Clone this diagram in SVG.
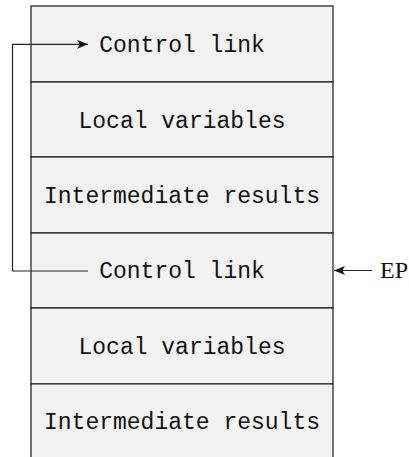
<svg xmlns="http://www.w3.org/2000/svg" width="409" height="457" viewBox="0 0 409 457">
<style>
.cell{fill:#f2f2f2;stroke:#1a1a1a;stroke-width:1.2}
.t{font-family:"Liberation Mono","DejaVu Sans Mono",monospace;font-size:23px;fill:#111;text-anchor:middle}
.s{font-family:"Liberation Serif","DejaVu Serif",serif;font-size:24px;fill:#111}
.ln{fill:none;stroke:#222;stroke-width:1.2}
</style>
<defs>
<marker id="ah" viewBox="0 0 10 8" refX="10" refY="4" markerWidth="11" markerHeight="9" markerUnits="userSpaceOnUse" orient="auto">
<path d="M0,0 L10,4 L0,8 L2.5,4 Z" fill="#111"/>
</marker>
</defs>
<rect x="0" y="0" width="409" height="457" fill="#fff"/>
<g id="frame1">
<g id="cl1"><rect class="cell" x="31" y="6" width="302" height="76"/><text class="t" x="182" y="52">Control link</text></g>
<g id="lv1"><rect class="cell" x="31" y="82" width="302" height="75"/><text class="t" x="182" y="128">Local variables</text></g>
<g id="ir1"><rect class="cell" x="31" y="157" width="302" height="76"/><text class="t" x="182" y="203">Intermediate results</text></g>
</g>
<g id="frame2">
<g id="cl2"><rect class="cell" x="31" y="233" width="302" height="75"/><text class="t" x="182" y="278">Control link</text></g>
<g id="lv2"><rect class="cell" x="31" y="308" width="302" height="76"/><text class="t" x="182" y="354">Local variables</text></g>
<g id="ir2"><path d="M31,458 V384 H333 V458" class="cell"/><text class="t" x="182" y="429">Intermediate results</text></g>
</g>
<g id="ep"><text class="s" x="380" y="278">EP</text></g>
<g id="connectors">
<path class="ln" d="M88,271 H12.5 V44.3 H88" marker-end="url(#ah)"/>
<path class="ln" d="M372,270.5 H334" marker-end="url(#ah)" stroke-width="1.5"/>
</g>
</svg>
